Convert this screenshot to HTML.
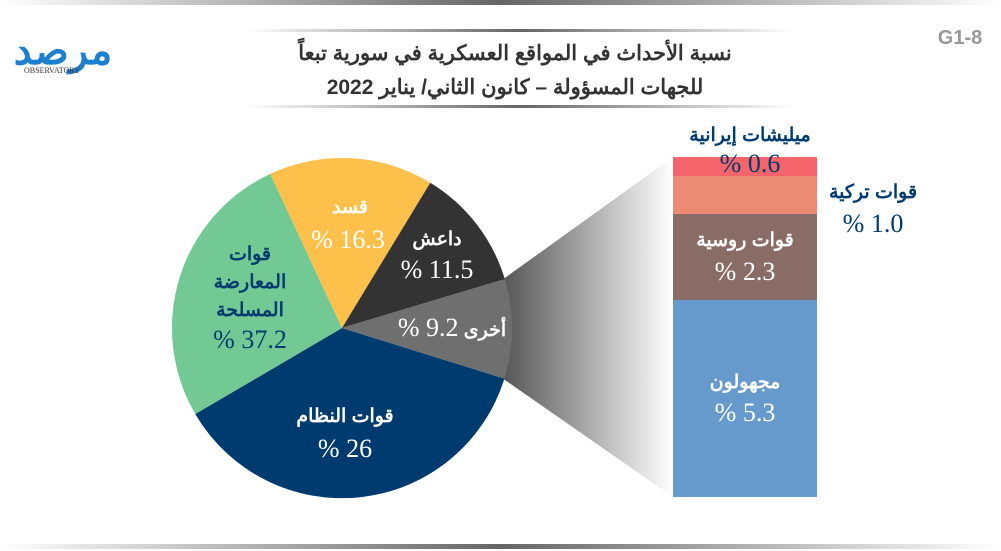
<!DOCTYPE html>
<html><head><meta charset="utf-8"><style>
body{margin:0;background:#fff;}
svg{display:block;}
.ar{font-family:"Liberation Sans","Noto Sans CJK SC",sans-serif;font-weight:bold;}
.num{font-family:"Liberation Serif",serif;}
</style></head><body>
<svg width="1001" height="551" viewBox="0 0 1001 551" xmlns="http://www.w3.org/2000/svg">
<defs>
<linearGradient id="hl" x1="0" x2="1"><stop offset="0" stop-color="#fff"/><stop offset="0.5" stop-color="#666"/><stop offset="1" stop-color="#fff"/></linearGradient>
<linearGradient id="fun" x1="0" x2="1"><stop offset="0" stop-color="#555"/><stop offset="1" stop-color="#fff"/></linearGradient>
</defs>
<rect x="0" y="0" width="1001" height="5" fill="url(#hl)"/>
<rect x="0" y="544" width="1001" height="5" fill="url(#hl)"/>
<rect x="245" y="29" width="550" height="3" fill="url(#hl)"/>
<rect x="245" y="105" width="550" height="3" fill="url(#hl)"/>
<!-- logo -->
<text x="63" y="64" class="ar" font-size="40" fill="#1d7fd0" text-anchor="middle">مرصد</text>
<text x="52" y="73" font-family="Liberation Serif" font-size="8" fill="#333" text-anchor="middle">OBSERVATORY</text>
<text x="960" y="44" class="ar" font-size="20" fill="#999" text-anchor="middle">G1-8</text>
<text x="515" y="60" class="ar" font-size="21" fill="#333" text-anchor="middle" direction="rtl">نسبة الأحداث في المواقع العسكرية في سورية تبعاً</text>
<text x="515" y="94" class="ar" font-size="21" fill="#333" text-anchor="middle" direction="rtl">للجهات المسؤولة – كانون الثاني/ يناير 2022</text>
<!-- funnel -->
<polygon points="502,280 673,157 673,497 502,378" fill="url(#fun)"/>
<g transform="translate(342,328)">
<path d="M0,0 L162.4,50.6 A170,170 0 0 1 -146.7,86.0 Z" fill="#003b6f"/>
<path d="M0,0 L-146.7,86.0 A170,170 0 0 1 -71.8,-154.1 Z" fill="#72c993"/>
<path d="M0,0 L-71.8,-154.1 A170,170 0 0 1 88.3,-145.3 Z" fill="#fdc04b"/>
<path d="M0,0 L88.3,-145.3 A170,170 0 0 1 162.8,-48.9 Z" fill="#333"/>
<path d="M0,0 L162.8,-48.9 A170,170 0 0 1 162.4,50.6 Z" fill="#6f6f6f"/>
</g>
<text x="350" y="213" class="ar" font-size="19" fill="#fff" text-anchor="middle">قسد</text>
<text x="348" y="248" class="num" font-size="26" fill="#fff" text-anchor="middle">% 16.3</text>
<text x="437" y="245" class="ar" font-size="19" fill="#fff" text-anchor="middle">داعش</text>
<text x="437" y="278" class="num" font-size="26" fill="#fff" text-anchor="middle">% 11.5</text>
<text x="452" y="336" class="ar" font-size="19" fill="#fff" text-anchor="middle" direction="rtl">أخرى <tspan class="num" font-weight="normal" font-size="26">9.2 %</tspan></text>
<text x="250" y="260" class="ar" font-size="19" fill="#003b6f" text-anchor="middle">قوات</text>
<text x="250" y="288" class="ar" font-size="19" fill="#003b6f" text-anchor="middle">المعارضة</text>
<text x="250" y="316" class="ar" font-size="19" fill="#003b6f" text-anchor="middle">المسلحة</text>
<text x="250" y="348" class="num" font-size="26" fill="#003b6f" text-anchor="middle">% 37.2</text>
<text x="345" y="422" class="ar" font-size="19" fill="#fff" text-anchor="middle">قوات النظام</text>
<text x="345" y="457" class="num" font-size="26" fill="#fff" text-anchor="middle">% 26</text>
<rect x="673" y="157" width="144" height="19" fill="#f5646b"/>
<rect x="673" y="176" width="144" height="38" fill="#ec8b74"/>
<rect x="673" y="214" width="144" height="86" fill="#8a6c67"/>
<rect x="673" y="300" width="144" height="197" fill="#6699cc"/>
<text x="750" y="141" class="ar" font-size="19" fill="#003b6f" text-anchor="middle">ميليشات إيرانية</text>
<text x="750" y="172" class="num" font-size="26" fill="#003b6f" text-anchor="middle">% 0.6</text>
<text x="873" y="198" class="ar" font-size="19" fill="#003b6f" text-anchor="middle">قوات تركية</text>
<text x="873" y="232" class="num" font-size="26" fill="#003b6f" text-anchor="middle">% 1.0</text>
<text x="745" y="246" class="ar" font-size="19" fill="#fff" text-anchor="middle">قوات روسية</text>
<text x="745" y="280" class="num" font-size="26" fill="#fff" text-anchor="middle">% 2.3</text>
<text x="745" y="388" class="ar" font-size="19" fill="#fff" text-anchor="middle">مجهولون</text>
<text x="745" y="421" class="num" font-size="26" fill="#fff" text-anchor="middle">% 5.3</text>
</svg>
</body></html>
